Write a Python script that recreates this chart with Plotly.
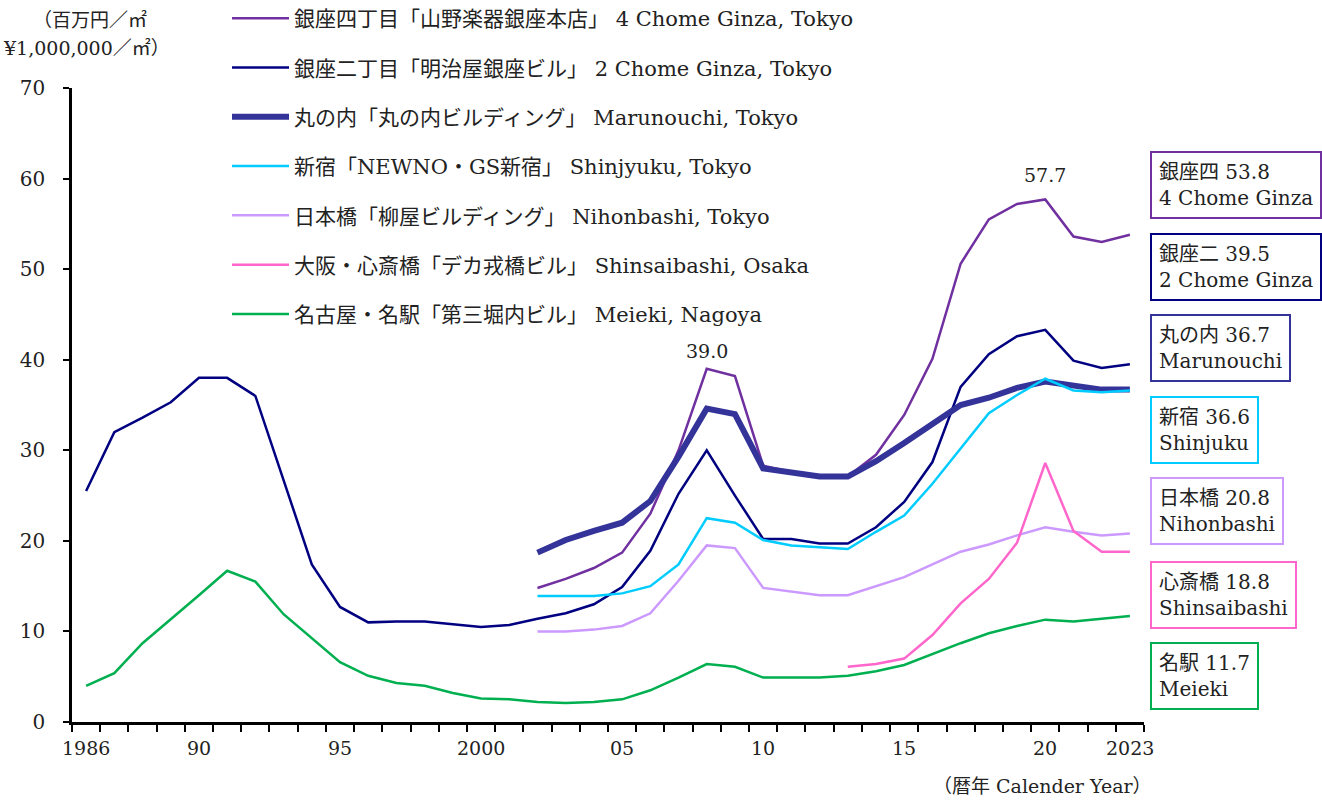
import plotly.graph_objects as go

# Office land prices (million yen per square metre), calendar years
years = list(range(1986, 2024))

ginza4_start = 2002
ginza4 = [14.8, 15.8, 17.0, 18.7, 23.0, 30.0, 39.0, 38.2, 28.3, 27.6, 27.1,
          27.1, 29.5, 33.9, 40.1, 50.6, 55.5, 57.2, 57.7, 53.6, 53.0, 53.8]

ginza2_start = 1986
ginza2 = [25.5, 32.0, 33.6, 35.3, 38.0, 38.0, 36.0, 26.8, 17.4, 12.7,
          11.0, 11.1, 11.1, 10.8, 10.5, 10.7, 11.4, 12.0, 13.0, 14.9,
          18.9, 25.2, 30.0, 25.0, 20.2, 20.2, 19.7, 19.7, 21.5, 24.3,
          28.7, 37.0, 40.6, 42.6, 43.3, 39.9, 39.1, 39.5]

marunouchi_start = 2002
marunouchi = [18.7, 20.1, 21.1, 22.0, 24.4, 29.3, 34.6, 34.0, 28.0, 27.5, 27.1,
              27.1, 28.8, 30.8, 32.9, 35.0, 35.8, 36.9, 37.6, 37.2, 36.7, 36.7]

shinjuku_start = 2002
shinjuku = [13.9, 13.9, 13.9, 14.2, 15.0, 17.4, 22.5, 22.0, 20.1, 19.5, 19.3,
            19.1, 21.0, 22.8, 26.3, 30.2, 34.1, 36.1, 37.9, 36.6, 36.4, 36.6]

nihonbashi_start = 2002
nihonbashi = [10.0, 10.0, 10.2, 10.6, 12.0, 15.6, 19.5, 19.2, 14.8, 14.4, 14.0,
              14.0, 15.0, 16.0, 17.4, 18.8, 19.6, 20.6, 21.5, 21.0, 20.6, 20.8]

shinsaibashi_start = 2013
shinsaibashi = [6.1, 6.4, 7.0, 9.6, 13.1, 15.8, 19.8, 28.6, 21.1, 18.8, 18.8]

meieki_start = 1986
meieki = [4.0, 5.4, 8.7, 11.3, 14.0, 16.7, 15.5, 11.9, 9.2, 6.6,
          5.1, 4.3, 4.0, 3.2, 2.6, 2.5, 2.2, 2.1, 2.2, 2.5,
          3.5, 4.9, 6.4, 6.1, 4.9, 4.9, 4.9, 5.1, 5.6, 6.3,
          7.5, 8.7, 9.8, 10.6, 11.3, 11.1, 11.4, 11.7]

legend_names = [
    "銀座四丁目「山野楽器銀座本店」 4 Chome Ginza, Tokyo",
    "銀座二丁目「明治屋銀座ビル」 2 Chome Ginza, Tokyo",
    "丸の内「丸の内ビルディング」 Marunouchi, Tokyo",
    "新宿「NEWNO・GS新宿」 Shinjyuku, Tokyo",
    "日本橋「柳屋ビルディング」 Nihonbashi, Tokyo",
    "大阪・心斎橋「デカ戎橋ビル」 Shinsaibashi, Osaka",
    "名古屋・名駅「第三堀内ビル」 Meieki, Nagoya",
]
short_ja = ["銀座四", "銀座二", "丸の内", "新宿", "日本橋", "心斎橋", "名駅"]
short_en = ["4 Chome Ginza", "2 Chome Ginza", "Marunouchi", "Shinjuku",
            "Nihonbashi", "Shinsaibashi", "Meieki"]

tick_years = [1986, 1990, 1995, 2000, 2005, 2010, 2015, 2020, 2023]
tick_text = ["1986", "90", "95", "2000", "05", "10", "15", "20", "2023"]
y_ticks = [0, 10, 20, 30, 40, 50, 60, 70]

series = [
    (ginza4_start, ginza4, "#7030A0", 2.5),
    (ginza2_start, ginza2, "#000080", 2.5),
    (marunouchi_start, marunouchi, "#333399", 6),
    (shinjuku_start, shinjuku, "#00CCFF", 2.5),
    (nihonbashi_start, nihonbashi, "#CC99FF", 2.5),
    (shinsaibashi_start, shinsaibashi, "#FF66CC", 2.5),
    (meieki_start, meieki, "#00B050", 2.5),
]

FONT = "DejaVu Serif, Noto Sans CJK JP, serif"
TXT = "#222222"

W, H = 1322, 801
L, R, T, B = 72, 178, 88, 79
PW, PH = W - L - R, H - T - B


def px_x(px):
    return (px - L) / PW


def px_y(py):
    return (H - B - py) / PH


fig = go.Figure()
for i, (start, vals, color, width) in enumerate(series):
    xs = list(range(start, start + len(vals)))
    fig.add_trace(go.Scatter(
        x=xs, y=vals, mode="lines", name=legend_names[i],
        legendgroup=f"g{i}",
        line=dict(color=color, width=width),
    ))

annotations = []
# Peak labels for 4 Chome Ginza
for yr, shift in [(2008, 5), (2020, 11)]:
    v = ginza4[yr - ginza4_start]
    annotations.append(dict(
        x=yr, y=v, xref="x", yref="y", text=f"{v:.1f}", showarrow=False,
        xanchor="center", yanchor="bottom", yshift=shift,
        font=dict(family=FONT, size=19, color=TXT),
    ))

# Latest-year value boxes on the right
box_centers = [185, 267, 348, 430, 511, 595, 676]
for i, (start, vals, color, width) in enumerate(series):
    v = vals[-1]
    annotations.append(dict(
        x=px_x(1150), y=px_y(box_centers[i]), xref="paper", yref="paper",
        xanchor="left", yanchor="middle", align="left", showarrow=False,
        text=f"{short_ja[i]} {v:.1f}<br>{short_en[i]}",
        bordercolor=color, borderwidth=2, borderpad=7, bgcolor="white",
        font=dict(family=FONT, size=20, color=TXT),
    ))

# Year labels centred under their categories
for yr, lab in zip(tick_years, tick_text):
    annotations.append(dict(
        x=yr, y=px_y(748), xref="x", yref="paper", text=lab, showarrow=False,
        xanchor="center", yanchor="middle",
        font=dict(family=FONT, size=19, color=TXT),
    ))

# Unit and axis titles
annotations += [
    dict(x=px_x(90), y=px_y(20), xref="paper", yref="paper", showarrow=False,
         xanchor="center", yanchor="middle",
         text="（百万円／㎡", font=dict(family=FONT, size=19, color=TXT)),
    dict(x=px_x(86), y=px_y(48), xref="paper", yref="paper", showarrow=False,
         xanchor="center", yanchor="middle",
         text="¥1,000,000／㎡）", font=dict(family=FONT, size=19, color=TXT)),
    dict(x=px_x(1042), y=px_y(786), xref="paper", yref="paper", showarrow=False,
         xanchor="center", yanchor="middle",
         text="（暦年 Calender Year）", font=dict(family=FONT, size=19, color=TXT)),
]

boundaries = [y - 0.5 for y in years] + [years[-1] + 0.5]
xr = [years[0] - 0.5, years[-1] + 0.5]

fig.update_layout(
    width=W, height=H, autosize=False,
    margin=dict(l=L, r=R, t=T, b=B, pad=0, autoexpand=False),
    paper_bgcolor="white", plot_bgcolor="white",
    font=dict(family=FONT, size=19, color=TXT),
    showlegend=True,
    legend=dict(
        x=px_x(227), y=px_y(-2), xanchor="left", yanchor="top",
        bgcolor="rgba(0,0,0,0)", borderwidth=0,
        font=dict(family=FONT, size=21, color=TXT),
        tracegroupgap=19, itemwidth=57,
    ),
    xaxis=dict(
        range=xr, tickmode="array", tickvals=boundaries,
        ticktext=[""] * len(boundaries),
        ticks="outside", ticklen=7, tickwidth=2, tickcolor="black",
        showline=True, linecolor="black", linewidth=2.5,
        showgrid=False, zeroline=False,
    ),
    yaxis=dict(
        range=[0, 70], tickmode="array", tickvals=y_ticks,
        ticks="outside", ticklen=6, tickwidth=2, tickcolor="black",
        ticklabelstandoff=14,
        showline=True, linecolor="black", linewidth=2.5,
        showgrid=False, zeroline=False,
        tickfont=dict(family=FONT, size=20, color=TXT),
    ),
    annotations=annotations,
)

fig.write_html("out.html")
